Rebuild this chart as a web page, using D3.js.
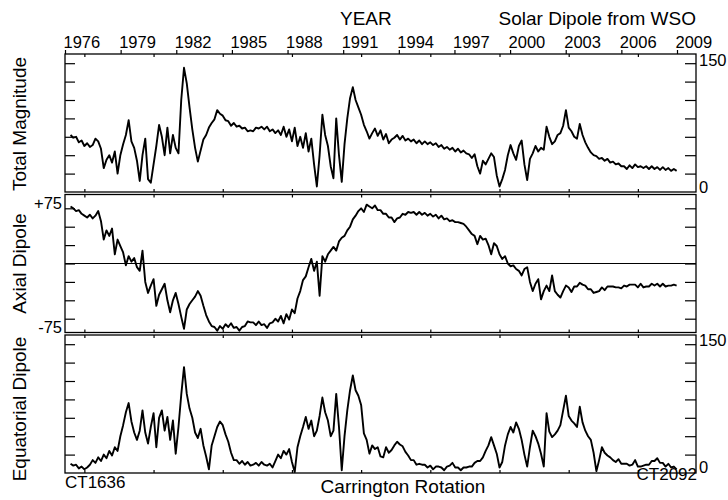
<!DOCTYPE html>
<html lang="en">
<head>
<meta charset="utf-8"/>
<title>Solar Dipole from WSO</title>
<script src="https://d3js.org/d3.v7.min.js"></script>
<style>
    body { margin: 0; background: #fff; }
    svg text { font-family: Arial, "Liberation Sans", Helvetica, sans-serif; fill: #000; }
</style>
</head>
<body>
<script>
// Carrington rotations, one sample every 2 rotations (CR1640 .. CR2078)
const rotations = d3.range(1640, 2080, 2);

const totalMagnitude = [
    62, 59, 60, 54, 56, 50, 53, 49, 51, 58,
    55, 47, 26, 35, 40, 32, 44, 20, 40, 52,
    62, 78, 55, 48, 34, 12, 40, 58, 14, 10,
    30, 50, 73, 60, 40, 70, 42, 62, 48, 42,
    100, 135, 118, 92, 68, 48, 33, 45, 57, 62,
    70, 75, 79, 89, 85, 83, 78, 77, 72, 75,
    71, 72, 69, 70, 66, 67, 66, 70, 69, 71,
    68, 71, 66, 68, 64, 67, 62, 71, 60, 68,
    55, 70, 50, 60, 48, 64, 44, 58, 30, 6,
    40, 84, 62, 50, 28, 15, 80, 40, 11, 52,
    80, 102, 114, 100, 92, 84, 73, 66, 58, 64,
    69, 61, 67, 57, 63, 53, 57, 59, 62, 57,
    61, 56, 58, 55, 57, 53, 56, 52, 55, 52,
    54, 51, 53, 49, 51, 47, 49, 46, 48, 44,
    47, 43, 45, 42, 41, 37, 41, 28, 20, 34,
    30, 36, 42, 38, 18, 6, 14, 24, 40, 51,
    42, 35, 50, 56, 30, 13, 36, 42, 50, 44,
    48, 46, 71, 60, 52, 55, 62, 64, 72, 89,
    70, 66, 60, 58, 74, 62, 54, 48, 43, 40,
    39, 36, 37, 34, 36, 32, 33, 30, 31, 28,
    28, 25, 29, 26, 30, 27, 28, 26, 28, 25,
    28, 25, 27, 24, 27, 24, 26, 23, 25, 23
];

const axialDipole = [
    62, 60, 57, 58, 54, 52, 50, 53, 49, 52,
    57, 46, 26, 36, 30, 38, 10, 26, 19, 12,
    -2, 8, 2, 6, -4, -8, 14, -20, -32, -24,
    -17, -46, -34, -28, -22, -40, -53, -40, -32, -44,
    -58, -71, -50, -44, -40, -36, -30, -35, -46, -56,
    -63, -68, -69, -73, -68, -71, -66, -69, -65, -70,
    -69, -73, -69, -68, -63, -64, -64, -67, -63, -67,
    -66, -70, -65, -64, -60, -63, -57, -65, -55, -61,
    -50, -54, -38, -30, -18, -14, -4, 5, -8, 2,
    -35, 8, 2, 10, 14, 18, 14, 24, 28, 30,
    36, 40, 48, 52, 57, 60, 56, 64, 62, 60,
    63, 58, 58, 54, 54, 50, 50, 45, 49, 50,
    54, 53, 56, 55, 56, 53, 56, 53, 55, 52,
    54, 51, 53, 49, 52, 48, 49, 46, 47, 45,
    45, 44, 43, 40, 36, 32, 30, 21, 30, 26,
    27, 20, 10, 22, 19, 10, 5, 8, 0, -3,
    -2, -6, -8, -13, -6, -4, -20, -30, -22, -17,
    -39, -30, -24, -30, -13, -30, -34, -37, -30, -24,
    -26, -31, -25, -25, -21, -23, -24, -28, -28, -32,
    -31, -30, -26, -29, -25, -25, -25, -26, -26, -27,
    -24, -25, -23, -23, -23, -26, -22, -26, -25, -25,
    -22, -24, -22, -25, -22, -25, -24, -24, -23, -24
];

const equatorialDipole = [
    10, 8, 9, 5, 7, 4, 6, 9, 14, 11,
    17, 13, 20, 16, 24, 19, 28, 24, 40, 52,
    66, 76, 56, 44, 36, 46, 68, 44, 32, 50,
    65, 28, 60, 68, 46, 61, 36, 57, 21, 50,
    85, 115, 86, 70, 60, 44, 38, 48, 30, 18,
    4, 30, 40, 50, 56, 52, 42, 34, 22, 14,
    14, 10, 13, 9, 12, 8, 9, 11, 8, 12,
    9, 8, 10, 6, 13, 20, 16, 24, 20, 26,
    12, 1, 28, 40, 50, 61, 48, 57, 40, 46,
    62, 82, 66, 57, 40, 46, 86, 50, 3, 40,
    68, 90, 106, 90, 84, 74, 43, 36, 21, 30,
    26, 28, 18, 17, 28, 22, 25, 30, 34, 31,
    29, 23, 19, 14, 14, 9, 10, 9, 9, 6,
    8, 4, 7, 7, 6, 3, 7, 8, 11, 6,
    6, 3, 6, 6, 7, 7, 11, 13, 13, 17,
    24, 30, 39, 30, 21, 6, 12, 30, 42, 50,
    44, 55, 48, 36, 20, 7, 28, 46, 40, 32,
    21, 7, 65, 45, 39, 42, 46, 52, 68, 84,
    62, 57, 54, 50, 72, 55, 46, 40, 36, 22,
    2, 14, 28, 22, 19, 17, 14, 12, 15, 10,
    10, 10, 8, 9, 14, 7, 7, 8, 9, 9,
    13, 13, 16, 11, 11, 7, 10, 6, 7, 4
];

const yearTicks = [1976, 1979, 1982, 1985, 1988, 1991, 1994, 1997, 2000, 2003, 2006, 2009];
const rotationTicks = [1650, 1700, 1750, 1800, 1850, 1900, 1950, 2000, 2050];
const magnitudeTicks = [20, 40, 60, 80, 100, 120, 140];
const axialTicks = [-60, -40, -20, 0, 20, 40, 60];

const width = 728, height = 500;
const left = 65, right = 696;

const svg = d3.select("body").append("svg")
    .attr("width", width)
    .attr("height", height);

const x = d3.scaleLinear().domain([1636, 2092]).range([left, right]);
const xYear = d3.scaleLinear().domain([1976, 2009]).range([left, 677]);

// panel boxes, top to bottom
const panels = [
    {name: "Total Magnitude", values: totalMagnitude, domain: [0, 150], ticks: magnitudeTicks, top: 54, bottom: 192, titleShift: 1},
    {name: "Axial Dipole", values: axialDipole, domain: [-75, 75], ticks: axialTicks, top: 194.5, bottom: 332.5, titleShift: 0},
    {name: "Equatorial Dipole", values: equatorialDipole, domain: [0, 150], ticks: magnitudeTicks, top: 335, bottom: 473, titleShift: 5}
];

function cleanAxis(g) {
    g.select(".domain").remove();
    g.selectAll(".tick line").attr("stroke", "#000").attr("stroke-width", 1.2);
}

panels.forEach(p => {
    const y = d3.scaleLinear().domain(p.domain).range([p.bottom, p.top]);

    // y ticks pointing inwards on both sides
    svg.append("g").attr("transform", `translate(${left},0)`)
        .call(d3.axisRight(y).tickValues(p.ticks).tickSize(10).tickFormat(""))
        .call(cleanAxis);
    svg.append("g").attr("transform", `translate(${right},0)`)
        .call(d3.axisLeft(y).tickValues(p.ticks).tickSize(11).tickFormat(""))
        .call(cleanAxis);

    // rotation ticks on top and bottom edges
    svg.append("g").attr("transform", `translate(0,${p.top})`)
        .call(d3.axisBottom(x).tickValues(rotationTicks).tickSize(3).tickFormat(""))
        .call(cleanAxis);
    svg.append("g").attr("transform", `translate(0,${p.bottom})`)
        .call(d3.axisTop(x).tickValues(rotationTicks).tickSize(3).tickFormat(""))
        .call(cleanAxis);

    if (p.domain[0] < 0) {
        svg.append("line")
            .attr("x1", left).attr("x2", right)
            .attr("y1", y(0)).attr("y2", y(0))
            .attr("stroke", "#000").attr("stroke-width", 1.2);
    }

    const line = d3.line()
        .x((d, i) => x(rotations[i]))
        .y(d => y(d));
    svg.append("path")
        .datum(p.values)
        .attr("d", line)
        .attr("fill", "none")
        .attr("stroke", "#000")
        .attr("stroke-width", 1.9)
        .attr("stroke-linejoin", "round");

    svg.append("rect")
        .attr("x", left).attr("y", p.top)
        .attr("width", right - left).attr("height", p.bottom - p.top)
        .attr("fill", "none").attr("stroke", "#000").attr("stroke-width", 1.3);

    // panel title, rotated
    svg.append("text")
        .attr("transform", `translate(26,${(p.top + p.bottom) / 2 + p.titleShift}) rotate(-90)`)
        .attr("text-anchor", "middle")
        .style("font-size", "19px")
        .text(p.name);
});

// scale end labels
const endLabels = svg.append("g").style("font-size", "16.5px");
endLabels.append("text").attr("x", 699).attr("y", 66).text("150");
endLabels.append("text").attr("x", 699).attr("y", 193).text("0");
endLabels.append("text").attr("x", 62).attr("y", 209).attr("text-anchor", "end").text("+75");
endLabels.append("text").attr("x", 62).attr("y", 333).attr("text-anchor", "end").text("-75");
endLabels.append("text").attr("x", 699).attr("y", 346).text("150");
endLabels.append("text").attr("x", 699).attr("y", 473).text("0");

// year axis along the top
const yearAxis = svg.append("g").attr("transform", "translate(0,54)")
    .call(d3.axisTop(xYear).tickValues(yearTicks).tickSize(4).tickFormat(d3.format("d")));
yearAxis.select(".domain").remove();
yearAxis.selectAll(".tick line").attr("stroke", "#000").attr("stroke-width", 1.2);
yearAxis.selectAll(".tick text")
    .attr("text-anchor", "start")
    .attr("dx", -2)
    .attr("y", -6)
    .style("font-size", "16.5px")
    .style("font-family", "Arial, 'Liberation Sans', sans-serif")
    .attr("fill", "#000");

svg.append("text").attr("x", 340).attr("y", 25).style("font-size", "19px").text("YEAR");
svg.append("text").attr("x", 696).attr("y", 25).attr("text-anchor", "end")
    .style("font-size", "19px").text("Solar Dipole from WSO");

// carrington rotation labels
svg.append("text").attr("x", 65).attr("y", 488).style("font-size", "17px").text("CT1636");
svg.append("text").attr("x", 697).attr("y", 480).attr("text-anchor", "end")
    .style("font-size", "17px").text("CT2092");
svg.append("text").attr("x", 403).attr("y", 493).attr("text-anchor", "middle")
    .style("font-size", "19px").text("Carrington Rotation");
</script>
</body>
</html>
